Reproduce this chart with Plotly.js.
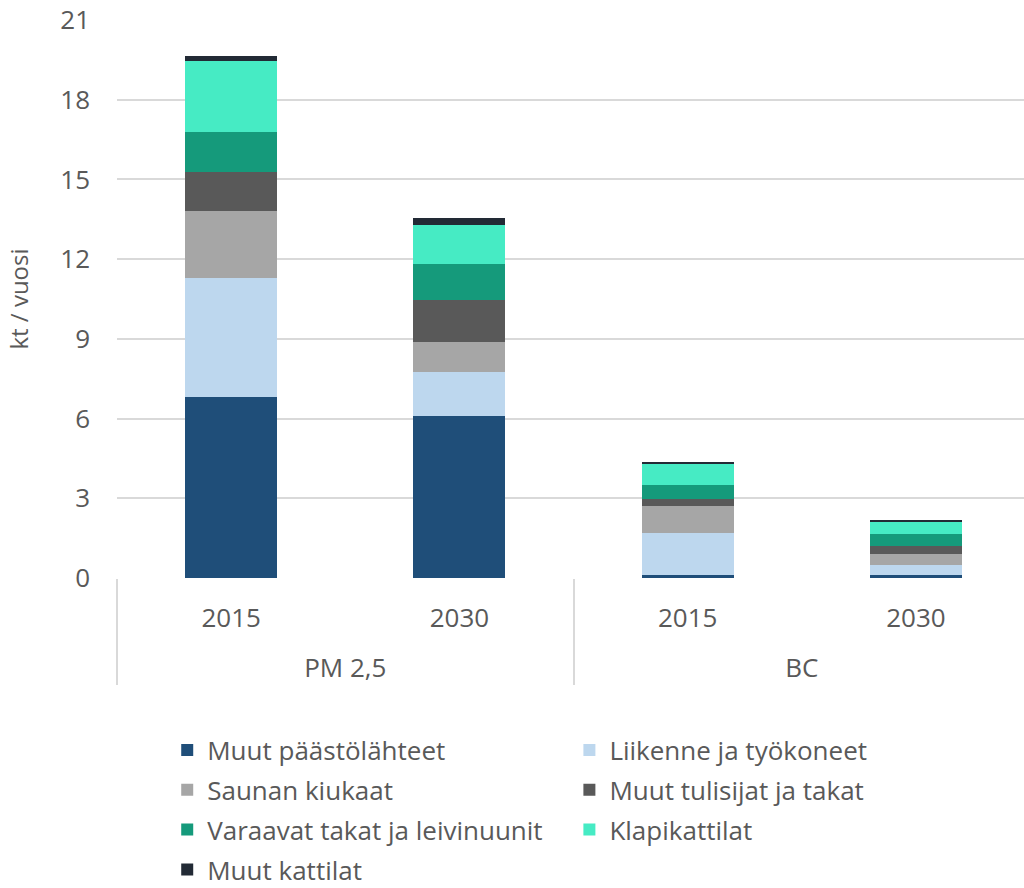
<!DOCTYPE html>
<html>
<head>
<meta charset="utf-8">
<script src="https://cdn.plot.ly/plotly-3.0.1.min.js"></script>
<style>html,body{margin:0;padding:0;background:#fff;overflow:hidden;width:1024px;height:888px}#chart{width:1030px;height:888px}</style>
</head>
<body>
<div id="chart"></div>
<script>
const groups = ['PM 2,5', 'PM 2,5', 'BC', 'BC'];
const years = ['2015', '2030', '2015', '2030'];

const seriesNames = [
  'Muut päästölähteet',
  'Liikenne ja työkoneet',
  'Saunan kiukaat',
  'Muut tulisijat ja takat',
  'Varaavat takat ja leivinuunit',
  'Klapikattilat',
  'Muut kattilat'
];
const muutPaastolahteet = [6.81, 6.10, 0.10, 0.10];
const liikenne = [4.48, 1.66, 1.59, 0.40];
const saunanKiukaat = [2.52, 1.12, 1.02, 0.40];
const muutTulisijat = [1.47, 1.59, 0.26, 0.30];
const varaavatTakat = [1.51, 1.34, 0.54, 0.44];
const klapikattilat = [2.67, 1.46, 0.79, 0.46];
const muutKattilat = [0.19, 0.27, 0.06, 0.08];
const yTicks = [0, 3, 6, 9, 12, 15, 18, 21];

const seriesValues = [muutPaastolahteet, liikenne, saunanKiukaat, muutTulisijat, varaavatTakat, klapikattilat, muutKattilat];
const colors = ['#1f4e79', '#bdd7ee', '#a6a6a6', '#595959', '#159a7b', '#46ebc4', '#222a35'];
const legendOf = ['legend', 'legend2', 'legend', 'legend2', 'legend', 'legend2', 'legend'];

// group labels drawn one line lower (empty first line) to sit like the reference
const groupLabels = groups.map(g => '\u00a0<br>' + g);

const traces = seriesNames.map((name, i) => ({
  type: 'bar',
  name: name,
  x: [groupLabels, years],
  y: seriesValues[i],
  marker: {color: colors[i], line: {width: 0}},
  legend: legendOf[i],
  legendgroup: 'g' + i,
  hovertemplate: '%{y}<extra>' + name + '</extra>'
}));

const fam = '"Open Sans", Lato, sans-serif';
const tickFont = {family: fam, size: 26, color: '#595959'};

const legendCommon = {
  orientation: 'v',
  traceorder: 'grouped',
  tracegroupgap: 3,
  maxheight: 400,
  font: {family: fam, size: 26, color: '#595959'},
  bgcolor: 'rgba(0,0,0,0)',
  xanchor: 'left',
  yanchor: 'top',
  itemclick: false,
  itemdoubleclick: false
};

const layout = {
  width: 1030,
  height: 888,
  margin: {l: 117, r: 0, t: 20, b: 310, autoexpand: false},
  paper_bgcolor: '#ffffff',
  plot_bgcolor: '#ffffff',
  font: {family: fam, size: 24, color: '#595959'},
  barmode: 'stack',
  bargap: 0.596,
  showlegend: true,
  xaxis: {
    type: 'multicategory',
    automargin: false,
    showgrid: false,
    showline: false,
    zeroline: false,
    ticks: '',
    ticklabelstandoff: 22,
    showdividers: true,
    dividercolor: '#d9d9d9',
    dividerwidth: 1.5,
    tickfont: tickFont
  },
  yaxis: {
    range: [0, 21],
    tickvals: yTicks,
    automargin: false,
    showgrid: true,
    gridcolor: '#d9d9d9',
    gridwidth: 1.5,
    zeroline: false,
    showline: false,
    ticks: '',
    ticklabelstandoff: 26,
    tickfont: tickFont,
    title: {text: 'kt / vuosi', font: {family: fam, size: 24, color: '#595959'}, standoff: 24}
  },
  legend: Object.assign({}, legendCommon, {x: 0.055, y: -0.2663}),
  legend2: Object.assign({}, legendCommon, {x: 0.4955, y: -0.2663})
};

Plotly.newPlot('chart', traces, layout, {displayModeBar: false});
</script>
</body>
</html>
